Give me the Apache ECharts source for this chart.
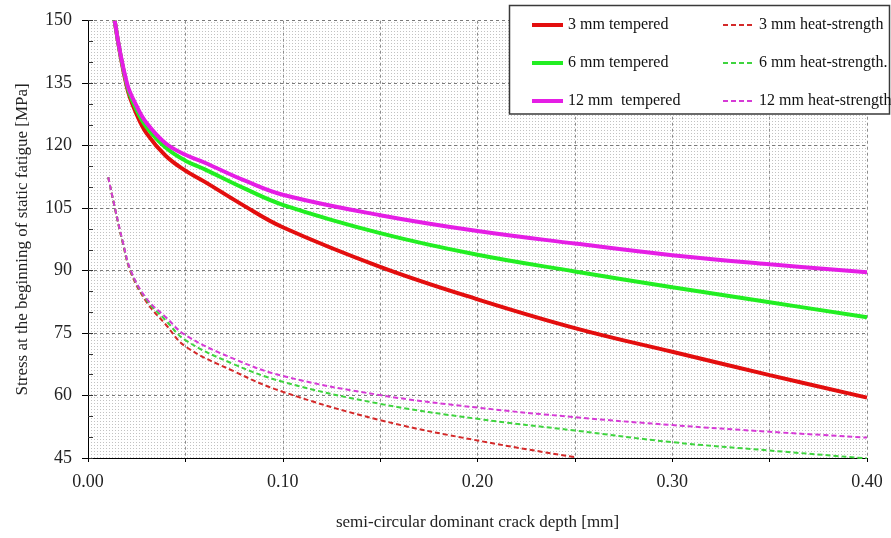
<!DOCTYPE html>
<html>
<head>
<meta charset="utf-8">
<script src="https://cdn.jsdelivr.net/npm/echarts@6/dist/echarts.min.js"></script>
<style>
  html, body { margin: 0; padding: 0; background: #ffffff; }
  #chart { width: 891px; height: 538px; }
</style>
</head>
<body>
<div id="chart"></div>
<script>
// Crack depth [mm] sampled for the tempered glass curves
const temperedDepth = [0.0137, 0.02, 0.025, 0.03, 0.04, 0.05, 0.06, 0.08, 0.10, 0.15, 0.20, 0.25, 0.30, 0.35, 0.40];
// Stress at the beginning of static fatigue [MPa], tempered glass
const tempered3mm  = [150, 134.0, 127.5, 123.0, 117.5, 114.0, 111.3, 105.6, 100.4, 90.9, 83.1, 76.2, 70.5, 64.9, 59.5];
const tempered6mm  = [150, 134.5, 128.5, 124.5, 119.5, 116.4, 114.3, 109.8, 105.8, 99.0, 93.8, 89.8, 86.0, 82.4, 78.8];
const tempered12mm = [150, 135.0, 129.5, 125.5, 120.5, 117.8, 115.9, 111.7, 108.2, 103.3, 99.5, 96.5, 93.7, 91.5, 89.6];

// Crack depth [mm] sampled for the heat-strengthened glass curves
const heatDepth = [0.0104, 0.014, 0.018, 0.022, 0.03, 0.04, 0.05, 0.075, 0.10, 0.15, 0.20, 0.25, 0.30, 0.35, 0.40];
const heat3mm  = [112.4, 104.5, 96.3, 89.5, 82.5, 77.0, 71.8, 65.8, 60.9, 54.1, 49.2, 45.2];
const heat6mm  = [112.4, 104.6, 96.5, 89.8, 83.0, 78.0, 73.3, 67.5, 63.3, 58.0, 54.4, 51.6, 48.8, 46.8, 44.9];
const heat12mm = [112.4, 104.7, 96.7, 90.0, 83.3, 78.8, 74.5, 68.8, 64.7, 60.1, 57.1, 54.8, 52.9, 51.3, 49.9];

// Axis ranges and tick spacing
const xRange = [0, 0.40];
const xStep = 0.05;
const yRange = [45, 150];
const yStep = 15;
const yMinorStep = 5;

const pairs = (xs, ys) => ys.map((y, i) => [xs[i], y]);

// Stippled plot background
const tile = document.createElement('canvas');
tile.width = 3; tile.height = 3;
const tctx = tile.getContext('2d');
tctx.fillStyle = '#ffffff';
tctx.fillRect(0, 0, 3, 3);
tctx.fillStyle = '#c2c2c2';
tctx.fillRect(1, 1, 1, 1);

const serif = 'Liberation Serif';

function solid(name, color, data) {
  return {
    name, type: 'line', data, smooth: 0.4,
    symbol: 'none', xAxisIndex: 0, yAxisIndex: 0,
    lineStyle: { color, width: 4 }, itemStyle: { color }, z: 3
  };
}
function dashed(name, color, data) {
  return {
    name, type: 'line', data, smooth: 0.4,
    symbol: 'none', xAxisIndex: 0, yAxisIndex: 0,
    lineStyle: { color, width: 2, type: [5, 3] }, itemStyle: { color }, z: 2
  };
}

const legendCommon = {
  z: 6, orient: 'vertical', top: 17, padding: 0,
  itemWidth: 31, itemHeight: 14, itemGap: 22,
  itemStyle: { opacity: 0 },
  lineStyle: { width: 'inherit' },
  textStyle: { fontFamily: serif, fontSize: 16, color: '#111' }
};

const chart = echarts.init(document.getElementById('chart'), null, { renderer: 'canvas' });
chart.setOption({
  animation: false,
  backgroundColor: '#ffffff',
  grid: {
    left: 88, right: 24, top: 20.7, bottom: 80,
    show: true, borderWidth: 0,
    backgroundColor: { image: tile, repeat: 'repeat' }
  },
  xAxis: {
    type: 'value', min: xRange[0], max: xRange[1], interval: xStep,
    name: 'semi-circular dominant crack depth [mm]',
    nameLocation: 'middle', nameGap: 56,
    nameTextStyle: { fontFamily: serif, fontSize: 17, color: '#222' },
    axisLine: { show: true, onZero: false, lineStyle: { color: '#000', width: 1 } },
    axisTick: { show: true, length: 4, lineStyle: { color: '#000' } },
    axisLabel: {
      margin: 15, fontFamily: serif, fontSize: 18, color: '#222',
      formatter: v => (Math.round(v * 100) % 10 === 0 ? v.toFixed(2) : '')
    },
    splitLine: { show: true, lineStyle: { color: '#8c8c8c', width: 1, type: [3, 3] } }
  },
  yAxis: [
    {
      type: 'value', min: yRange[0], max: yRange[1], interval: yStep,
      name: 'Stress at the beginning of static fatigue [MPa]',
      nameLocation: 'middle', nameGap: 57, nameRotate: 90,
      nameTextStyle: { fontFamily: serif, fontSize: 17, color: '#222' },
      axisLine: { show: true, onZero: false, lineStyle: { color: '#000', width: 1 } },
      axisTick: { show: true, length: 6, lineStyle: { color: '#000' } },
      axisLabel: { margin: 16, fontFamily: serif, fontSize: 18, color: '#222' },
      splitLine: { show: true, lineStyle: { color: '#7a7a7a', width: 1, type: [3, 3] } }
    },
    {
      // inner minor ticks every 5 MPa
      type: 'value', min: yRange[0], max: yRange[1], interval: yMinorStep,
      position: 'left',
      axisLine: { show: false },
      axisTick: { show: true, inside: true, length: 5, lineStyle: { color: '#333' } },
      axisLabel: { show: false },
      splitLine: { show: false }
    }
  ],
  graphic: [
    {
      type: 'rect', z: 5,
      shape: { x: 509.5, y: 5.5, width: 380, height: 108.5 },
      style: { fill: '#ffffff', stroke: '#3a3a3a', lineWidth: 1.5 }
    }
  ],
  legend: [
    Object.assign({}, legendCommon, {
      left: 530,
      data: ['3 mm tempered', '6 mm tempered', '12 mm  tempered']
    }),
    Object.assign({}, legendCommon, {
      left: 722,
      data: ['3 mm heat-strength', '6 mm heat-strength.', '12 mm heat-strength']
    })
  ],
  series: [
    dashed('3 mm heat-strength', '#d42a2a', pairs(heatDepth, heat3mm)),
    dashed('6 mm heat-strength.', '#3fd43f', pairs(heatDepth, heat6mm)),
    dashed('12 mm heat-strength', '#d63ad6', pairs(heatDepth, heat12mm)),
    solid('3 mm tempered', '#e30e0e', pairs(temperedDepth, tempered3mm)),
    solid('6 mm tempered', '#22ee22', pairs(temperedDepth, tempered6mm)),
    solid('12 mm  tempered', '#e51ee5', pairs(temperedDepth, tempered12mm))
  ]
});
</script>
</body>
</html>
